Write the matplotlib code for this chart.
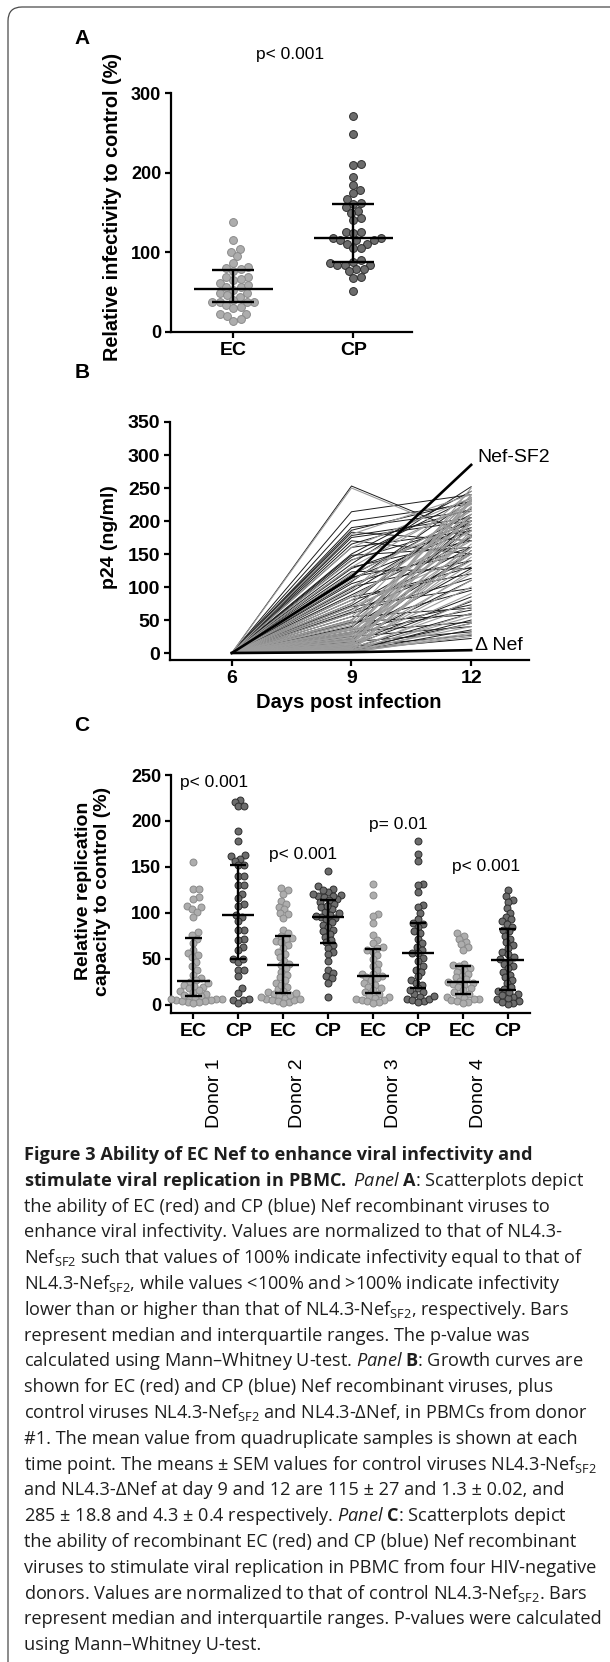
import numpy as np
import matplotlib
matplotlib.use("Agg")
import matplotlib.pyplot as plt
from matplotlib.patches import FancyBboxPatch
from matplotlib.transforms import IdentityTransform, blended_transform_factory

W, H, DPI = 610, 1662, 100
CAPTION_FONT = "Open Sans"

plt.rcParams["font.family"] = ["Liberation Sans", "DejaVu Sans"]
plt.rcParams["mathtext.fontset"] = "custom"
plt.rcParams["mathtext.rm"] = CAPTION_FONT
plt.rcParams["mathtext.it"] = CAPTION_FONT + ":italic"
plt.rcParams["mathtext.bf"] = CAPTION_FONT + ":bold"

EC_FACE, EC_EDGE = "#adadad", "#8a8a8a"
CP_FACE, CP_EDGE = "#6c6c6c", "#2e2e2e"

# ---- panel A: relative infectivity (%) ----
A_GROUPS = ["EC", "CP"]
A_EC = [138, 115, 100, 104, 95, 87, 82, 79, 80, 77, 65, 69, 69, 67, 62, 56, 59,
        56, 53, 49, 49, 44, 46, 40, 38, 38, 38, 34, 32, 30, 38, 23, 23, 20, 16, 14]
A_CP = [271, 248, 211, 209, 195, 185, 178, 174, 167, 161, 162, 157, 152, 150, 143,
        141, 125, 125, 115, 124, 118, 118, 116, 116, 111, 111, 106, 106, 86, 88,
        90, 84, 84, 84, 79, 79, 76, 69, 68, 51]

# ---- panel B: p24 growth curves (ng/ml) ----
B_DAYS = [6, 9, 12]
B_CP_DAY9 = [253, 214, 200, 186, 183, 178, 170, 165, 150, 148, 141, 135, 128, 123,
             118, 113, 108, 105, 100, 93, 88, 80, 75, 70, 66, 60, 55, 50, 47, 40,
             35, 32, 28, 25, 20, 17, 12, 10, 8, 5, 3, 2,
             190, 175, 160, 145, 130, 115, 98, 85, 72, 62, 45, 38, 30, 22, 15, 6]
B_CP_DAY12 = [178, 240, 226, 230, 170, 205, 150, 218, 245, 160, 195, 252, 190, 128,
              210, 186, 232, 160, 140, 200, 176, 130, 220, 98, 160, 113, 68, 190,
              58, 150, 73, 47, 128, 40, 110, 32, 78, 27, 60, 22, 50, 35,
              215, 200, 185, 235, 170, 150, 205, 120, 175, 140, 95, 200, 65, 155,
              85, 45]
B_EC_DAY9 = [250, 160, 140, 120, 110, 95, 85, 75, 65, 60, 55, 50, 45, 42, 38, 35,
             32, 30, 28, 26, 24, 22, 20, 18, 16, 15, 13, 12, 10, 9, 8, 7, 6, 5, 4,
             4, 3, 2, 2, 1,
             180, 130, 100, 80, 70, 48, 36, 27, 19, 14, 11, 8, 5, 3, 1]
B_EC_DAY12 = [175, 235, 225, 200, 215, 245, 185, 230, 170, 238, 205, 222, 195, 180,
              232, 160, 210, 150, 240, 190, 175, 135, 220, 120, 200, 165, 100, 230,
              145, 90, 185, 70, 125, 55, 40, 155, 30, 80, 25, 45,
              240, 230, 195, 210, 150, 228, 140, 250, 210, 180, 110, 235, 160, 60, 28]
B_NEF_SF2 = [0, 115, 285]
B_DELTA_NEF = [0, 1.3, 4.3]

# ---- panel C: relative replication capacity (%) per donor ----
C_TICKS = ["EC", "CP", "EC", "CP", "EC", "CP", "EC", "CP"]
C_DONORS = ["Donor 1", "Donor 2", "Donor 3", "Donor 4"]
C_PVALUES = ["p< 0.001", "p< 0.001", "p= 0.01", "p< 0.001"]
C_EC1 = [155, 126, 126, 117, 115, 108, 106, 104, 101, 96, 79, 76, 72, 67, 60, 56,
         54, 52, 47, 42, 38, 33, 29, 27, 25, 22, 20, 18, 15, 14, 12, 10, 9, 8, 7,
         6, 5, 5, 4, 3, 3, 2, 4, 6, 11, 16, 21, 24]
C_CP1 = [223, 221, 216, 216, 189, 178, 163, 162, 159, 157, 152, 152, 140, 140, 130,
         130, 121, 116, 110, 108, 98, 96, 91, 82, 82, 72, 71, 63, 60, 50, 47, 50,
         38, 38, 31, 18, 13, 7, 5, 5, 2]
C_EC2 = [127, 125, 121, 113, 110, 107, 104, 100, 99, 95, 70, 73, 82, 78, 75, 72, 68,
         65, 62, 58, 55, 52, 48, 45, 43, 40, 36, 33, 30, 27, 24, 20, 17, 14, 12, 10,
         8, 6, 5, 4, 3, 2, 5, 7, 9, 11, 13, 15, 22]
C_CP2 = [146, 129, 126, 123, 120, 118, 117, 115, 112, 110, 106, 104, 101, 98, 96, 95,
         93, 90, 87, 85, 82, 80, 77, 74, 71, 68, 65, 62, 58, 55, 48, 38, 35, 31, 29,
         24, 9, 125, 121, 119, 114, 108, 100, 97]
C_EC3 = [132, 120, 99, 97, 89, 76, 71, 67, 63, 62, 60, 58, 54, 50, 45, 42, 38, 34,
         34, 31, 30, 29, 27, 24, 22, 20, 18, 16, 14, 12, 10, 9, 8, 7, 5, 5, 4, 3, 2]
C_CP3 = [178, 164, 157, 132, 130, 123, 109, 107, 100, 94, 89, 88, 85, 80, 78, 72, 67,
         63, 60, 56, 56, 51, 48, 42, 38, 36, 31, 27, 24, 22, 18, 14, 12, 9, 7, 5, 4,
         3, 16, 6, 10]
C_EC4 = [78, 75, 72, 69, 66, 63, 60, 45, 43, 42, 40, 38, 36, 34, 32, 30, 28, 26, 25,
         24, 23, 22, 20, 18, 16, 14, 12, 10, 9, 8, 7, 6, 5, 4, 3, 2]
C_CP4 = [125, 118, 114, 112, 105, 100, 96, 93, 91, 88, 85, 82, 80, 75, 72, 68, 65, 62,
         58, 55, 52, 50, 48, 45, 42, 40, 36, 33, 30, 27, 24, 20, 17, 15, 12, 9, 6, 4,
         2, 1, 3, 8, 11, 14]
C_VALUES = [C_EC1, C_CP1, C_EC2, C_CP2, C_EC3, C_CP3, C_EC4, C_CP4]

SF2 = r"Ne$\mathrm{f}_{\mathrm{SF2}}$"
CAPTION = [
    ("Figure 3 Ability of EC Nef to enhance viral infectivity and", "bold"),
    (r"$\mathbf{stimulate\ viral\ replication\ in\ PBMC.}$ $\mathit{Panel}$ "
     r"$\mathbf{A}$: Scatterplots depict", "normal"),
    ("the ability of EC (red) and CP (blue) Nef recombinant viruses to", "normal"),
    ("enhance viral infectivity. Values are normalized to that of NL4.3-", "normal"),
    (SF2 + " such that values of 100% indicate infectivity equal to that of", "normal"),
    ("NL4.3-" + SF2 + ", while values <100% and >100% indicate infectivity", "normal"),
    ("lower than or higher than that of NL4.3-" + SF2 + ", respectively. Bars", "normal"),
    ("represent median and interquartile ranges. The p-value was", "normal"),
    (r"calculated using Mann–Whitney U-test. $\mathit{Panel}$ $\mathbf{B}$: "
     r"Growth curves are", "normal"),
    ("shown for EC (red) and CP (blue) Nef recombinant viruses, plus", "normal"),
    ("control viruses NL4.3-" + SF2 + " and NL4.3-ΔNef, in PBMCs from donor", "normal"),
    ("#1. The mean value from quadruplicate samples is shown at each", "normal"),
    ("time point. The means ± SEM values for control viruses NL4.3-" + SF2, "normal"),
    ("and NL4.3-ΔNef at day 9 and 12 are 115 ± 27 and 1.3 ± 0.02, and", "normal"),
    (r"285 ± 18.8 and 4.3 ± 0.4 respectively. $\mathit{Panel}$ $\mathbf{C}$: "
     r"Scatterplots depict", "normal"),
    ("the ability of recombinant EC (red) and CP (blue) Nef recombinant", "normal"),
    ("viruses to stimulate viral replication in PBMC from four HIV-negative", "normal"),
    ("donors. Values are normalized to that of control NL4.3-" + SF2 + ". Bars", "normal"),
    ("represent median and interquartile ranges. P-values were calculated", "normal"),
    ("using Mann–Whitney U-test.", "normal"),
]


def add_axes_px(fig, left, top, right, bottom):
    return fig.add_axes([left / W, 1 - bottom / H, (right - left) / W, (bottom - top) / H])


def ftext(fig, x, y, s, **kw):
    return fig.text(x / W, 1 - y / H, s, **kw)


def prism_axes(ax):
    for side in ("top", "right"):
        ax.spines[side].set_visible(False)
    for side in ("left", "bottom"):
        ax.spines[side].set_linewidth(1.6)
    ax.tick_params(direction="out", length=4, width=1.6, pad=3)


def swarm_offsets(values, px_per_unit, diam):
    """Beeswarm offsets (pixels) so that markers of `diam` px do not overlap."""
    ys = np.asarray(values, dtype=float) * px_per_unit
    offs = np.zeros(len(ys))
    placed = []
    for i in np.argsort(ys):
        y = ys[i]
        cands = [0.0]
        for px, py in placed:
            d = y - py
            if abs(d) < diam:
                dx = np.sqrt(diam ** 2 - d ** 2)
                cands += [px + dx, px - dx]
        cands.sort(key=abs)
        for c in cands:
            if all((c - px) ** 2 + (y - py) ** 2 >= diam ** 2 - 1e-6 for px, py in placed):
                offs[i] = c
                break
        placed.append((offs[i], y))
    return offs


def column_scatter(ax, pos, values, face, edge, s, diam, xppu, yppu, med_half, cap_half):
    offs = swarm_offsets(values, yppu, diam) / xppu
    ax.scatter(pos + offs, values, s=s, c=face, edgecolors=edge, linewidths=0.7,
               zorder=3, clip_on=False)
    q1, med, q3 = np.percentile(values, [25, 50, 75])
    kw = dict(color="black", lw=1.7, zorder=4, solid_capstyle="butt")
    ax.plot([pos - med_half, pos + med_half], [med, med], **kw)
    ax.plot([pos, pos], [q1, q3], **kw)
    ax.plot([pos - cap_half, pos + cap_half], [q1, q1], **kw)
    ax.plot([pos - cap_half, pos + cap_half], [q3, q3], **kw)


fig = plt.figure(figsize=(W / DPI, H / DPI), dpi=DPI)
fig.patch.set_facecolor("white")

# frame round the figure
fig.add_artist(FancyBboxPatch((8, -60), 700, H - 7 + 60,
                              boxstyle="round,pad=0,rounding_size=14", fill=False,
                              ec="#4a4a4a", lw=0.9, transform=IdentityTransform()))

bold = dict(fontweight="bold")

# ---------------- panel A ----------------
axA = add_axes_px(fig, 171, 93, 412, 332)
axA.set_xlim(-0.52, 1.49)
axA.set_ylim(0, 300)
prism_axes(axA)
xppu = 241 / 2.01
yppu = 239 / 300
column_scatter(axA, 0, A_EC, EC_FACE, EC_EDGE, 32, 7.6, xppu, yppu, 0.33, 0.175)
column_scatter(axA, 1, A_CP, CP_FACE, CP_EDGE, 32, 7.6, xppu, yppu, 0.33, 0.175)
axA.set_yticks([0, 100, 200, 300])
axA.set_xticks([0, 1])
axA.set_xticklabels(A_GROUPS, fontsize=14, **bold)
for lab in axA.get_yticklabels():
    lab.set_fontsize(13)
    lab.set_fontweight("bold")
ftext(fig, 82, 38, "A", fontsize=15, ha="center", va="center", **bold)
ftext(fig, 290, 55, "p< 0.001", fontsize=12.5, ha="center", va="center")
ftext(fig, 113, 207, "Relative infectivity to control (%)", rotation=90,
      fontsize=14.3, ha="center", va="center", **bold)

# ---------------- panel B ----------------
axB = add_axes_px(fig, 170, 422, 529, 660)
axB.set_xlim(4.45, 13.45)
axB.set_ylim(-10.6, 350)
prism_axes(axB)
for d9, d12 in zip(B_CP_DAY9, B_CP_DAY12):
    axB.plot(B_DAYS, [0, d9, d12], color="#1c1c1c", lw=0.7, zorder=2)
for d9, d12 in zip(B_EC_DAY9, B_EC_DAY12):
    axB.plot(B_DAYS, [0, d9, d12], color="#9c9c9c", lw=0.8, zorder=2)
axB.plot(B_DAYS, B_NEF_SF2, color="black", lw=1.9, zorder=3)
axB.plot(B_DAYS, B_DELTA_NEF, color="black", lw=1.9, zorder=3)
axB.set_xticks(B_DAYS)
axB.set_yticks(np.arange(0, 351, 50))
for lab in axB.get_xticklabels() + axB.get_yticklabels():
    lab.set_fontsize(14)
    lab.set_fontweight("bold")
ftext(fig, 82, 372, "B", fontsize=15, ha="center", va="center", **bold)
ftext(fig, 110, 537, "p24 (ng/ml)", rotation=90, fontsize=14, ha="center",
      va="center", **bold)
ftext(fig, 349, 703, "Days post infection", fontsize=14.5, ha="center", va="center",
      **bold)
ftext(fig, 477, 458, "Nef-SF2", fontsize=14, ha="left", va="center")
ftext(fig, 475, 646, "Δ Nef", fontsize=14, ha="left", va="center")

# ---------------- panel C ----------------
axC = add_axes_px(fig, 171, 775, 530, 1013)
axC.set_xlim(-0.5, 7.5)
axC.set_ylim(-8.7, 250)
prism_axes(axC)
xppu = 359 / 8
yppu = 238 / 258.7
for i, vals in enumerate(C_VALUES):
    if i % 2 == 0:
        column_scatter(axC, i, vals, EC_FACE, EC_EDGE, 25, 5.8, xppu, yppu, 0.36, 0.18)
    else:
        column_scatter(axC, i, vals, CP_FACE, CP_EDGE, 25, 5.8, xppu, yppu, 0.36, 0.18)
axC.set_xticks(range(len(C_TICKS)))
axC.set_xticklabels(C_TICKS, fontsize=14, **bold)
axC.set_yticks(np.arange(0, 251, 50))
for lab in axC.get_yticklabels():
    lab.set_fontsize(13)
    lab.set_fontweight("bold")
donor_tr = blended_transform_factory(axC.transData, axC.transAxes)
for x, name in zip([0.47, 2.33, 4.45, 6.35], C_DONORS):
    axC.text(x, -0.336, name, transform=donor_tr, rotation=90, fontsize=14,
             ha="center", va="center", clip_on=False)
for (x, y), p in zip([(214, 782), (303, 854), (398, 824), (486, 867)], C_PVALUES):
    ftext(fig, x, y, p, fontsize=12.5, ha="center", va="center")
ftext(fig, 82, 725, "C", fontsize=15, ha="center", va="center", **bold)
ftext(fig, 93, 891, "Relative replication\ncapacity to control (%)", rotation=90,
      fontsize=14, ha="center", va="center", multialignment="center",
      linespacing=1.1, **bold)

# ---------------- caption ----------------
for i, (text, weight) in enumerate(CAPTION):
    ftext(fig, 24, 1160 + 25.8 * i, text, fontsize=13.1, family=CAPTION_FONT,
          fontweight=weight, ha="left", va="baseline", color="#1e1e1e")

fig.savefig("out.png", dpi=DPI, facecolor="white")
